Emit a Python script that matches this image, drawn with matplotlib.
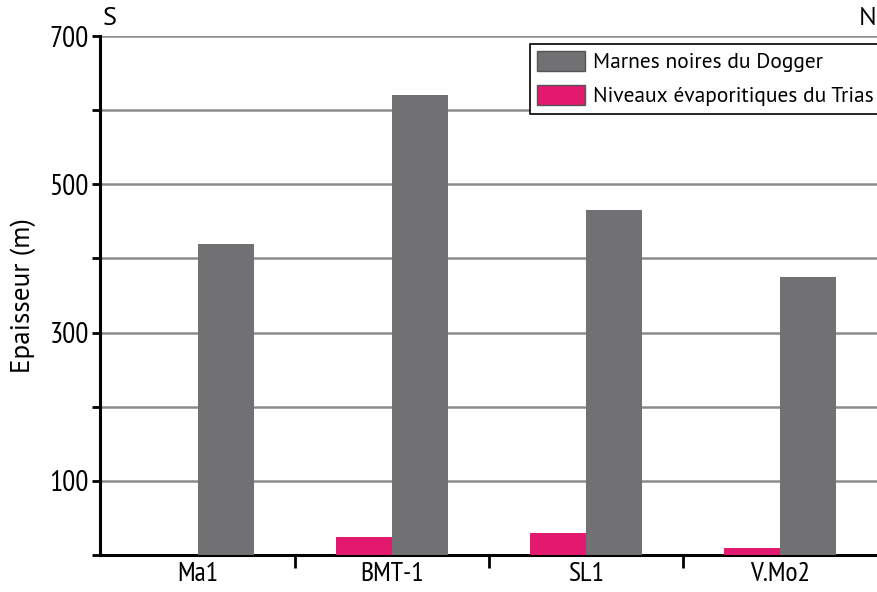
import matplotlib.pyplot as plt
import numpy as np
from matplotlib.patches import Patch

# Data
wells = ["Ma1", "BMT-1", "SL1", "V.Mo2"]
dogger = [420, 620, 465, 375]
trias = [0, 24, 30, 10]
y_labels = [100, 300, 500, 700]

narrow = ["PT Sans Narrow", "DejaVu Sans"]
regular = ["PT Sans", "DejaVu Sans"]
plt.rcParams["font.family"] = narrow

fig = plt.figure(figsize=(8.77, 5.92), dpi=100)
ax = fig.add_axes([0.114, 0.0625, 0.886, 0.8765])

x = np.arange(len(wells))
width = 0.29
grey = "#717173"
pink = "#e2196f"

ax.bar(x - width / 2, trias, width, color=pink, zorder=3)
ax.bar(x + width / 2, dogger, width, color=grey, zorder=3)

ax.set_xlim(-0.505, 3.5)
ax.set_ylim(0, 700)

# horizontal grid every 100 m
for v in range(100, 701, 100):
    ax.axhline(v, color="#8c8c8c", lw=1.8, zorder=1)

ax.set_yticks(range(0, 701, 100))
ax.set_yticklabels(["" if v not in y_labels else str(v) for v in range(0, 701, 100)])
ax.tick_params(axis="y", length=6, width=2, labelsize=21, pad=2)

ax.set_xticks(x)
ax.set_xticklabels(wells)
ax.tick_params(axis="x", length=0, labelsize=20, pad=5)
ax.set_xticks(x[1:] - 0.5, minor=True)
ax.tick_params(axis="x", which="minor", length=9, width=2, direction="out")

for side in ["top", "right"]:
    ax.spines[side].set_visible(False)
for side in ["left", "bottom"]:
    ax.spines[side].set_linewidth(2.2)

ax.set_ylabel("Epaisseur (m)", fontsize=19.5, labelpad=10, family=regular)

ax.text(0.004, 1.012, "S", transform=ax.transAxes, fontsize=19, ha="left", va="bottom",
        family=regular)
ax.text(0.9995, 1.012, "N", transform=ax.transAxes, fontsize=19, ha="right", va="bottom",
        family=regular)

handles = [Patch(facecolor=grey, edgecolor="#555555", label="Marnes noires du Dogger"),
           Patch(facecolor=pink, edgecolor="#555555", label="Niveaux évaporitiques du Trias")]
leg = ax.legend(handles=handles, loc="upper left", bbox_to_anchor=(0.553, 0.86, 0.46, 0.125),
                mode="expand", prop={"family": regular, "size": 15.5}, frameon=True,
                fancybox=False, framealpha=1, handlelength=2.2, handleheight=1.0,
                borderpad=0.35, labelspacing=0.6, handletextpad=0.4, borderaxespad=0)
leg.get_frame().set_edgecolor("black")
leg.get_frame().set_linewidth(1.2)
leg.set_zorder(5)

fig.savefig("out.png", dpi=100)
